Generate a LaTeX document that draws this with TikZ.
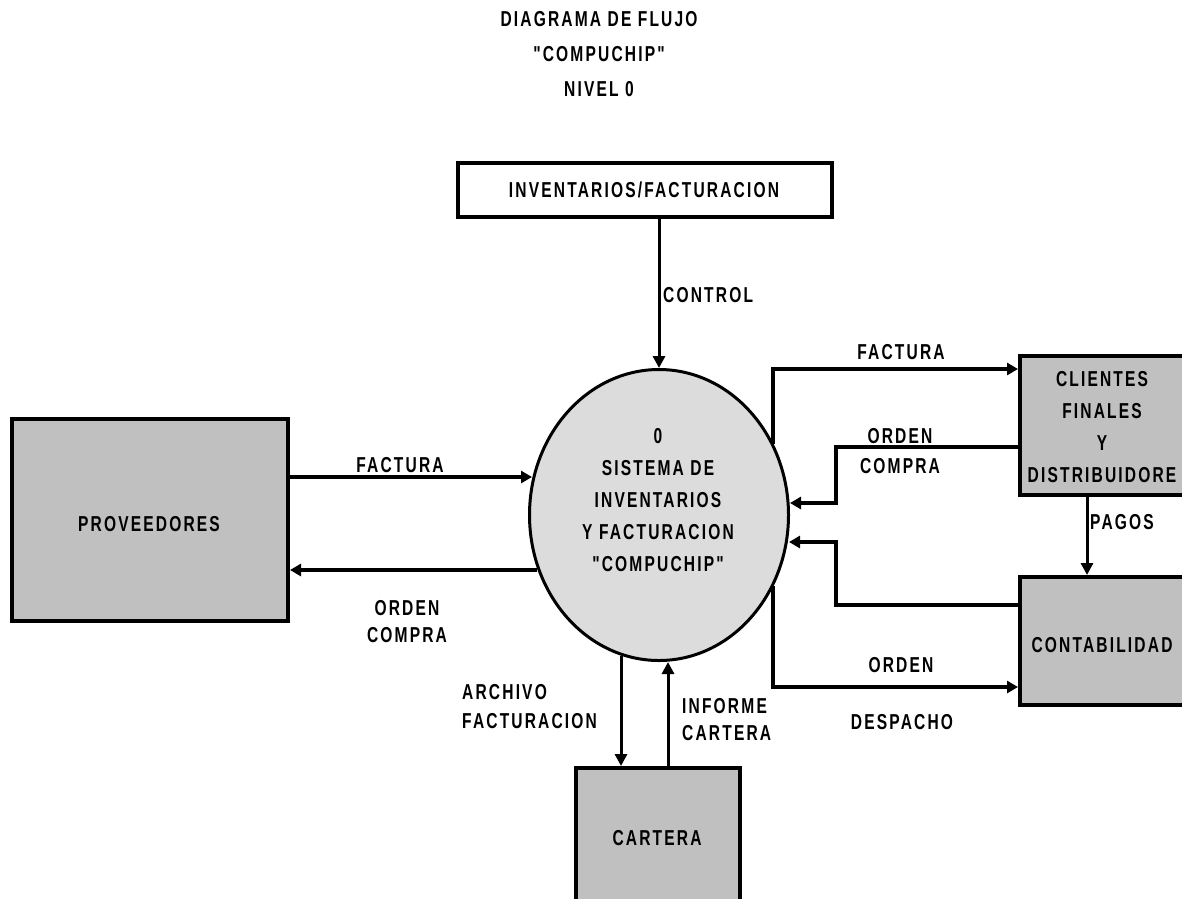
\documentclass[tikz,border=0pt]{standalone}
\usepackage{fontspec}
\setmainfont{Liberation Sans}[FakeStretch=0.72,LetterSpace=10,Ligatures=TeXOff]
\usetikzlibrary{arrows.meta,shapes.geometric}
\definecolor{boxgray}{HTML}{C0C0C0}
\definecolor{procgray}{HTML}{DCDCDC}
\begin{document}
\begin{tikzpicture}[x=1pt,y=-1pt,
  txt/.style={font=\fontsize{21.6}{32}\selectfont\bfseries, inner sep=0pt, align=center},
  entity/.style={draw, line width=4pt, fill=boxgray, inner sep=0pt},
  store/.style={draw, line width=4pt, fill=white, inner sep=0pt},
  process/.style={ellipse, draw, line width=3pt, fill=procgray, inner sep=0pt},
  flow/.style={line width=4.5pt, -{Triangle[length=11pt,width=12pt]}},
  thinflow/.style={line width=3pt, -{Triangle[length=12pt,width=12pt]}}]
\useasboundingbox (0,0) rectangle (1182,898);

% title
\node[txt, font=\fontsize{21.6}{35}\selectfont\bfseries] (title) at (599,54.5)
  {DIAGRAMA DE FLUJO\\"COMPUCHIP"\\NIVEL 0};

% external entities and store
\node[store, minimum width=374pt, minimum height=54pt] (inv) at (645,190) {};
\node[txt] (invtext) at (644,190) {INVENTARIOS/FACTURACION};
\node[entity, minimum width=276pt, minimum height=202pt] (prov) at (150,520) {};
\node[txt] (provtext) at (149,524) {PROVEEDORES};
\node[entity, minimum width=164pt, minimum height=139pt] (cli) at (1102,425.5) {};
\node[txt] (clitext) at (1102,427.5) {CLIENTES\\FINALES\\Y\\DISTRIBUIDORE};
\node[entity, minimum width=164pt, minimum height=128pt] (cont) at (1102,641) {};
\node[txt] (conttext) at (1102,645) {CONTABILIDAD};
\node[entity, minimum width=164pt, minimum height=140pt] (car) at (658,838) {};
\node[txt] (cartext) at (657,838) {CARTERA};

% central process
\node[process, minimum width=259pt, minimum height=291pt] (sys) at (659,515) {};
\node[txt] (systext) at (658,500) {0\\SISTEMA DE\\INVENTARIOS\\Y FACTURACION\\"COMPUCHIP"};

% contact points on the process border and bend points
\coordinate (facL) at (532,477);
\coordinate (ordL) at (537,570);
\coordinate (facR) at (773,444);
\coordinate (kFacR) at (0,369);
\coordinate (kOcR) at (0,447);
\coordinate (bendOc) at (836,503);
\coordinate (ocR) at (790,503);
\coordinate (kRet) at (0,605);
\coordinate (bendRet) at (836,542);
\coordinate (retR) at (789,542);
\coordinate (desR) at (773,586);
\coordinate (kDes) at (0,687);
\coordinate (kPag) at (1087,0);
\coordinate (arcB) at (621,656);
\coordinate (infB) at (668,662);

% data flows
\draw[thinflow] (sys.north |- inv.south) -- (sys.north);
\draw[flow] (prov.east |- facL) -- (facL);
\draw[flow] (ordL) -- (prov.east |- ordL);
\draw[flow] (facR) |- (cli.west |- kFacR);
\draw[flow] (cli.west |- kOcR) -| (bendOc) -- (ocR);
\draw[thinflow] (cli.south -| kPag) -- (cont.north -| kPag);
\draw[flow] (cont.west |- kRet) -| (bendRet) -- (retR);
\draw[flow] (desR) |- (cont.west |- kDes);
\draw[thinflow] (arcB) -- (car.north -| arcB);
\draw[thinflow] (car.north -| infB) -- (infB);

% flow labels
\node[txt, anchor=west] (lcontrol) at (663,295) {CONTROL};
\node[txt] (lfacL) at (400,465) {FACTURA};
\node[txt, font=\fontsize{21.6}{27}\selectfont\bfseries] (lordL) at (407,621.5) {ORDEN\\COMPRA};
\node[txt] (lfacR) at (901,352) {FACTURA};
\node[txt, font=\fontsize{21.6}{30}\selectfont\bfseries] (locR) at (900,451) {ORDEN\\COMPRA};
\node[txt, anchor=west] (lpagos) at (1090,522) {PAGOS};
\node[txt] (lord) at (901,665) {ORDEN};
\node[txt] (ldesp) at (902,722) {DESPACHO};
\node[txt, anchor=west, align=left, font=\fontsize{21.6}{29}\selectfont\bfseries] (larch) at (462,706.5) {ARCHIVO\\FACTURACION};
\node[txt, anchor=west, align=left, font=\fontsize{21.6}{27}\selectfont\bfseries] (linf) at (682,719.5) {INFORME\\CARTERA};
\end{tikzpicture}
\end{document}
